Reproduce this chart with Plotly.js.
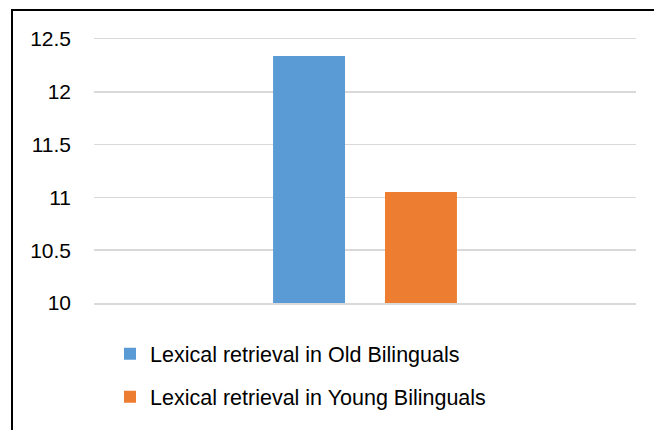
<!DOCTYPE html>
<html>
<head>
<meta charset="utf-8">
<script src="https://cdn.plot.ly/plotly-3.0.1.min.js"></script>
<style>
  html, body { margin: 0; padding: 0; background: #fff; }
  #wrap { position: relative; width: 654px; height: 430px; overflow: hidden; }
  #chart { position: absolute; left: 0; top: 0; width: 654px; height: 430px; }
  .frame-top { position: absolute; left: 11px; top: 9px; width: 643px; height: 2px; background: #000; }
  .frame-left { position: absolute; left: 11px; top: 9px; width: 2px; height: 421px; background: #000; }
</style>
</head>
<body>
<div id="wrap">
  <div id="chart"></div>
  <div class="frame-top"></div>
  <div class="frame-left"></div>
</div>
<script>
// Mean lexical retrieval scores by group
const categories = [""];
const seriesNames = ["Lexical retrieval in Old Bilinguals", "Lexical retrieval in Young Bilinguals"];
const oldBilinguals = [12.34];
const youngBilinguals = [11.05];
const yTickValues = [10, 10.5, 11, 11.5, 12, 12.5];
const yTickLabels = ["10", "10.5", "11", "11.5", "12", "12.5"];

const FONT = "Liberation Sans, Arial, sans-serif";
const GRID = "#D9D9D9";

const traces = [
  {
    type: "bar",
    name: seriesNames[0],
    x: categories,
    y: oldBilinguals,
    marker: { color: "#5B9BD5" },
    legendgroup: "a",
    hoverinfo: "y"
  },
  {
    type: "bar",
    name: seriesNames[1],
    x: categories,
    y: youngBilinguals,
    marker: { color: "#ED7D31" },
    legendgroup: "b",
    hoverinfo: "y"
  }
];

const layout = {
  width: 654,
  height: 430,
  margin: { l: 94, r: 18, t: 39, b: 127, pad: 0 },
  paper_bgcolor: "#ffffff",
  plot_bgcolor: "#ffffff",
  barmode: "group",
  bargap: 0.587,
  bargroupgap: 0.357,
  font: { family: FONT, size: 21, color: "#000000" },
  xaxis: {
    type: "category",
    showticklabels: false,
    showgrid: false,
    zeroline: false,
    // the top and bottom gridlines (12.5 and 10) sit on the plot edges
    showline: true,
    mirror: true,
    linecolor: GRID,
    linewidth: 1.5,
    ticks: ""
  },
  yaxis: {
    range: [10, 12.5],
    tickvals: yTickValues,
    ticktext: yTickLabels,
    showgrid: true,
    gridcolor: GRID,
    gridwidth: 1.5,
    zeroline: false,
    showline: false,
    ticks: "",
    ticklabelstandoff: 22,
    tickfont: { family: FONT, size: 21, color: "#000000" }
  },
  showlegend: true,
  legend: {
    orientation: "v",
    traceorder: "grouped",
    tracegroupgap: 12,
    x: (110 - 94) / 542,
    xanchor: "left",
    y: -0.115,
    yanchor: "top",
    font: { family: FONT, size: 21.5, color: "#000000" },
    bgcolor: "rgba(0,0,0,0)",
    borderwidth: 0
  }
};

Plotly.newPlot("chart", traces, layout, { displayModeBar: false, staticPlot: true });
</script>
</body>
</html>
